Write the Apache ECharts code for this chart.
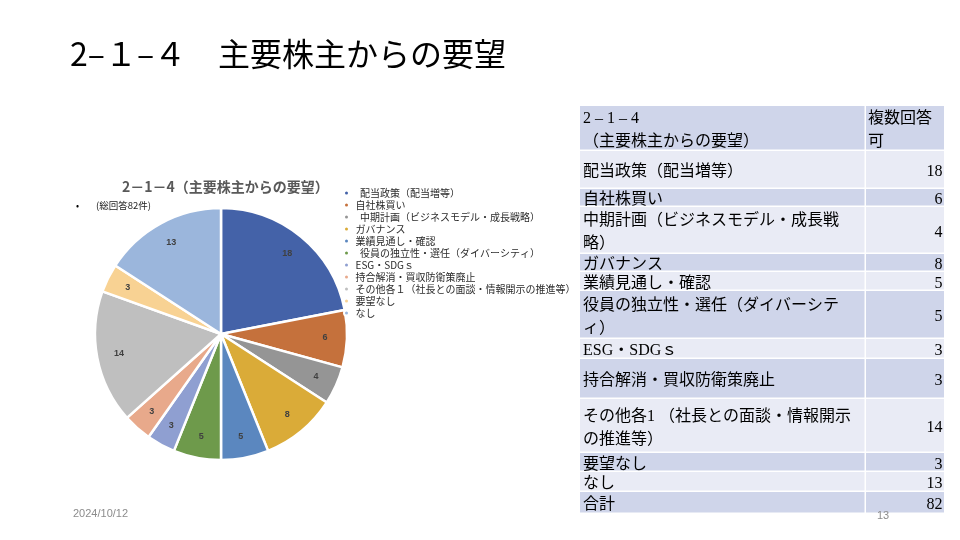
<!DOCTYPE html>
<html>
<head>
<meta charset="utf-8">
<script src="https://cdn.jsdelivr.net/npm/echarts@6/dist/echarts.min.js"></script>
<style>
html,body{margin:0;padding:0;background:#fff;}
#chart{width:960px;height:540px;}
</style>
</head>
<body>
<div id="chart"></div>
<script>
// ---- data ----
const categories = ['配当政策（配当増等）','自社株買い','中期計画（ビジネスモデル・成長戦略）','ガバナンス','業績見通し・確認','役員の独立性・選任（ダイバーシティ）','ESG・SDGｓ','持合解消・買収防衛策廃止','その他各１（社長との面談・情報開示の推進等）','要望なし','なし'];
const counts = [18,6,4,8,5,5,3,3,14,3,13];
const tableLabels = ['配当政策（配当増等）','自社株買い','中期計画（ビジネスモデル・成長戦\n略）','ガバナンス','業績見通し・確認','役員の独立性・選任（ダイバーシテ\nィ）','ESG・SDGｓ','持合解消・買収防衛策廃止','その他各1 （社長との面談・情報開示\nの推進等）','要望なし','なし'];
const tableHeader = ['2 – 1 – 4\n（主要株主からの要望）','複数回答\n可'];
const totalLabel = '合計';
const totalCount = 82;
const slideTitle = '2–１–４　主要株主からの要望';
const chartTitle = '2－1－4（主要株主からの要望）';
const noteText = '(総回答82件)';
const dateText = '2024/10/12';
const pageText = '13';

// ---- style ----
const colors = ['#4462A8','#C5713C','#959595','#DAAB38','#5B87BF','#6E9A4B','#8F9FD1','#E8A98B','#BFBFBF','#F8D293','#9BB6DC'];
const legendIndent = [0,2,5];
const rowTops = [106,151,189,207,254,272,291,339,359,399,453,472,492,514];
const colX = [580,866,944];
const darkRow = '#CFD5EA', lightRow = '#E9EBF5';
const serif = "'Liberation Serif','Noto Sans CJK JP',serif";
const sans = "'Noto Sans CJK JP','Noto Sans',sans-serif";
const textShift = 3;

const chart = echarts.init(document.getElementById('chart'));

const graphics = [];
graphics.push({type:'text', left:70, top:38, style:{text:slideTitle, font:"32px "+sans, fill:'#000'}});
graphics.push({type:'text', left:76, top:201, style:{text:'•', font:"9px "+sans, fill:'#000'}});
graphics.push({type:'text', left:96, top:201, style:{text:noteText, font:"9.5px "+sans, fill:'#222'}});
graphics.push({type:'text', left:73, top:508, style:{text:dateText, font:"11px 'Liberation Sans',sans-serif", fill:'#8C8C8C'}});

// table rows
const rows = [{l:tableHeader[0], r:tableHeader[1], header:true}];
tableLabels.forEach((t,i)=>rows.push({l:t, r:String(counts[i])}));
rows.push({l:totalLabel, r:String(totalCount)});
rows.forEach((row,i)=>{
  const y0 = rowTops[i], h = rowTops[i+1]-rowTops[i]-1.5;
  const fill = i%2===0 ? darkRow : lightRow;
  const cy = y0 + h/2 + textShift;
  graphics.push({type:'rect', shape:{x:colX[0], y:y0, width:colX[1]-colX[0]-1.5, height:h}, style:{fill}});
  graphics.push({type:'rect', shape:{x:colX[1], y:y0, width:colX[2]-colX[1], height:h}, style:{fill}});
  graphics.push({type:'text', x:colX[0]+3, y:cy, style:{text:row.l, font:"16px "+serif, fill:'#000', verticalAlign:'middle', lineHeight:23}});
  if(row.header){
    graphics.push({type:'text', x:colX[1]+2, y:cy, style:{text:row.r, font:"16px "+serif, fill:'#000', verticalAlign:'middle', lineHeight:23}});
  } else {
    graphics.push({type:'text', x:colX[2]-1.5, y:cy, style:{text:row.r, font:"16px "+serif, fill:'#000', align:'right', verticalAlign:'middle'}});
  }
});
graphics.push({type:'text', left:877, top:510, style:{text:pageText, font:"11px 'Liberation Sans',sans-serif", fill:'#8C8C8C'}});

const pieData = categories.map((c,i)=>({name:c, value:counts[i], itemStyle:{color:colors[i]}}));

chart.setOption({
  animation:false,
  title:{text:chartTitle, left:117, top:175, textStyle:{fontFamily:sans, fontSize:14, fontWeight:'bold', color:'#595959'}},
  legend:{
    orient:'vertical', left:338, top:183, icon:'circle', itemWidth:10, itemHeight:5, itemGap:2,
    data:categories,
    formatter:function(n){ return (legendIndent.indexOf(categories.indexOf(n))>=0 ? '  ' : '') + n; },
    textStyle:{fontFamily:sans, fontSize:10, lineHeight:10, color:'#2b2b2b', padding:[0,0,0,-1]}
  },
  series:[
    {type:'pie', center:[221,334], radius:[0,126], startAngle:90, clockwise:true, data:pieData,
     itemStyle:{borderColor:'#fff', borderWidth:2.5}, label:{show:false}, labelLine:{show:false}, silent:true},
    {type:'pie', center:[221,334], radius:[76,126], startAngle:90, clockwise:true, silent:true,
     data:categories.map((c,i)=>({name:c, value:counts[i]})),
     itemStyle:{color:'rgba(0,0,0,0)'}, legendHoverLink:false,
     label:{show:true, position:'inside', formatter:'{c}', fontFamily:"'Liberation Sans',sans-serif", fontSize:9, fontWeight:'bold', color:'#404040'},
     labelLine:{show:false}}
  ],
  graphic:graphics
});
</script>
</body>
</html>
